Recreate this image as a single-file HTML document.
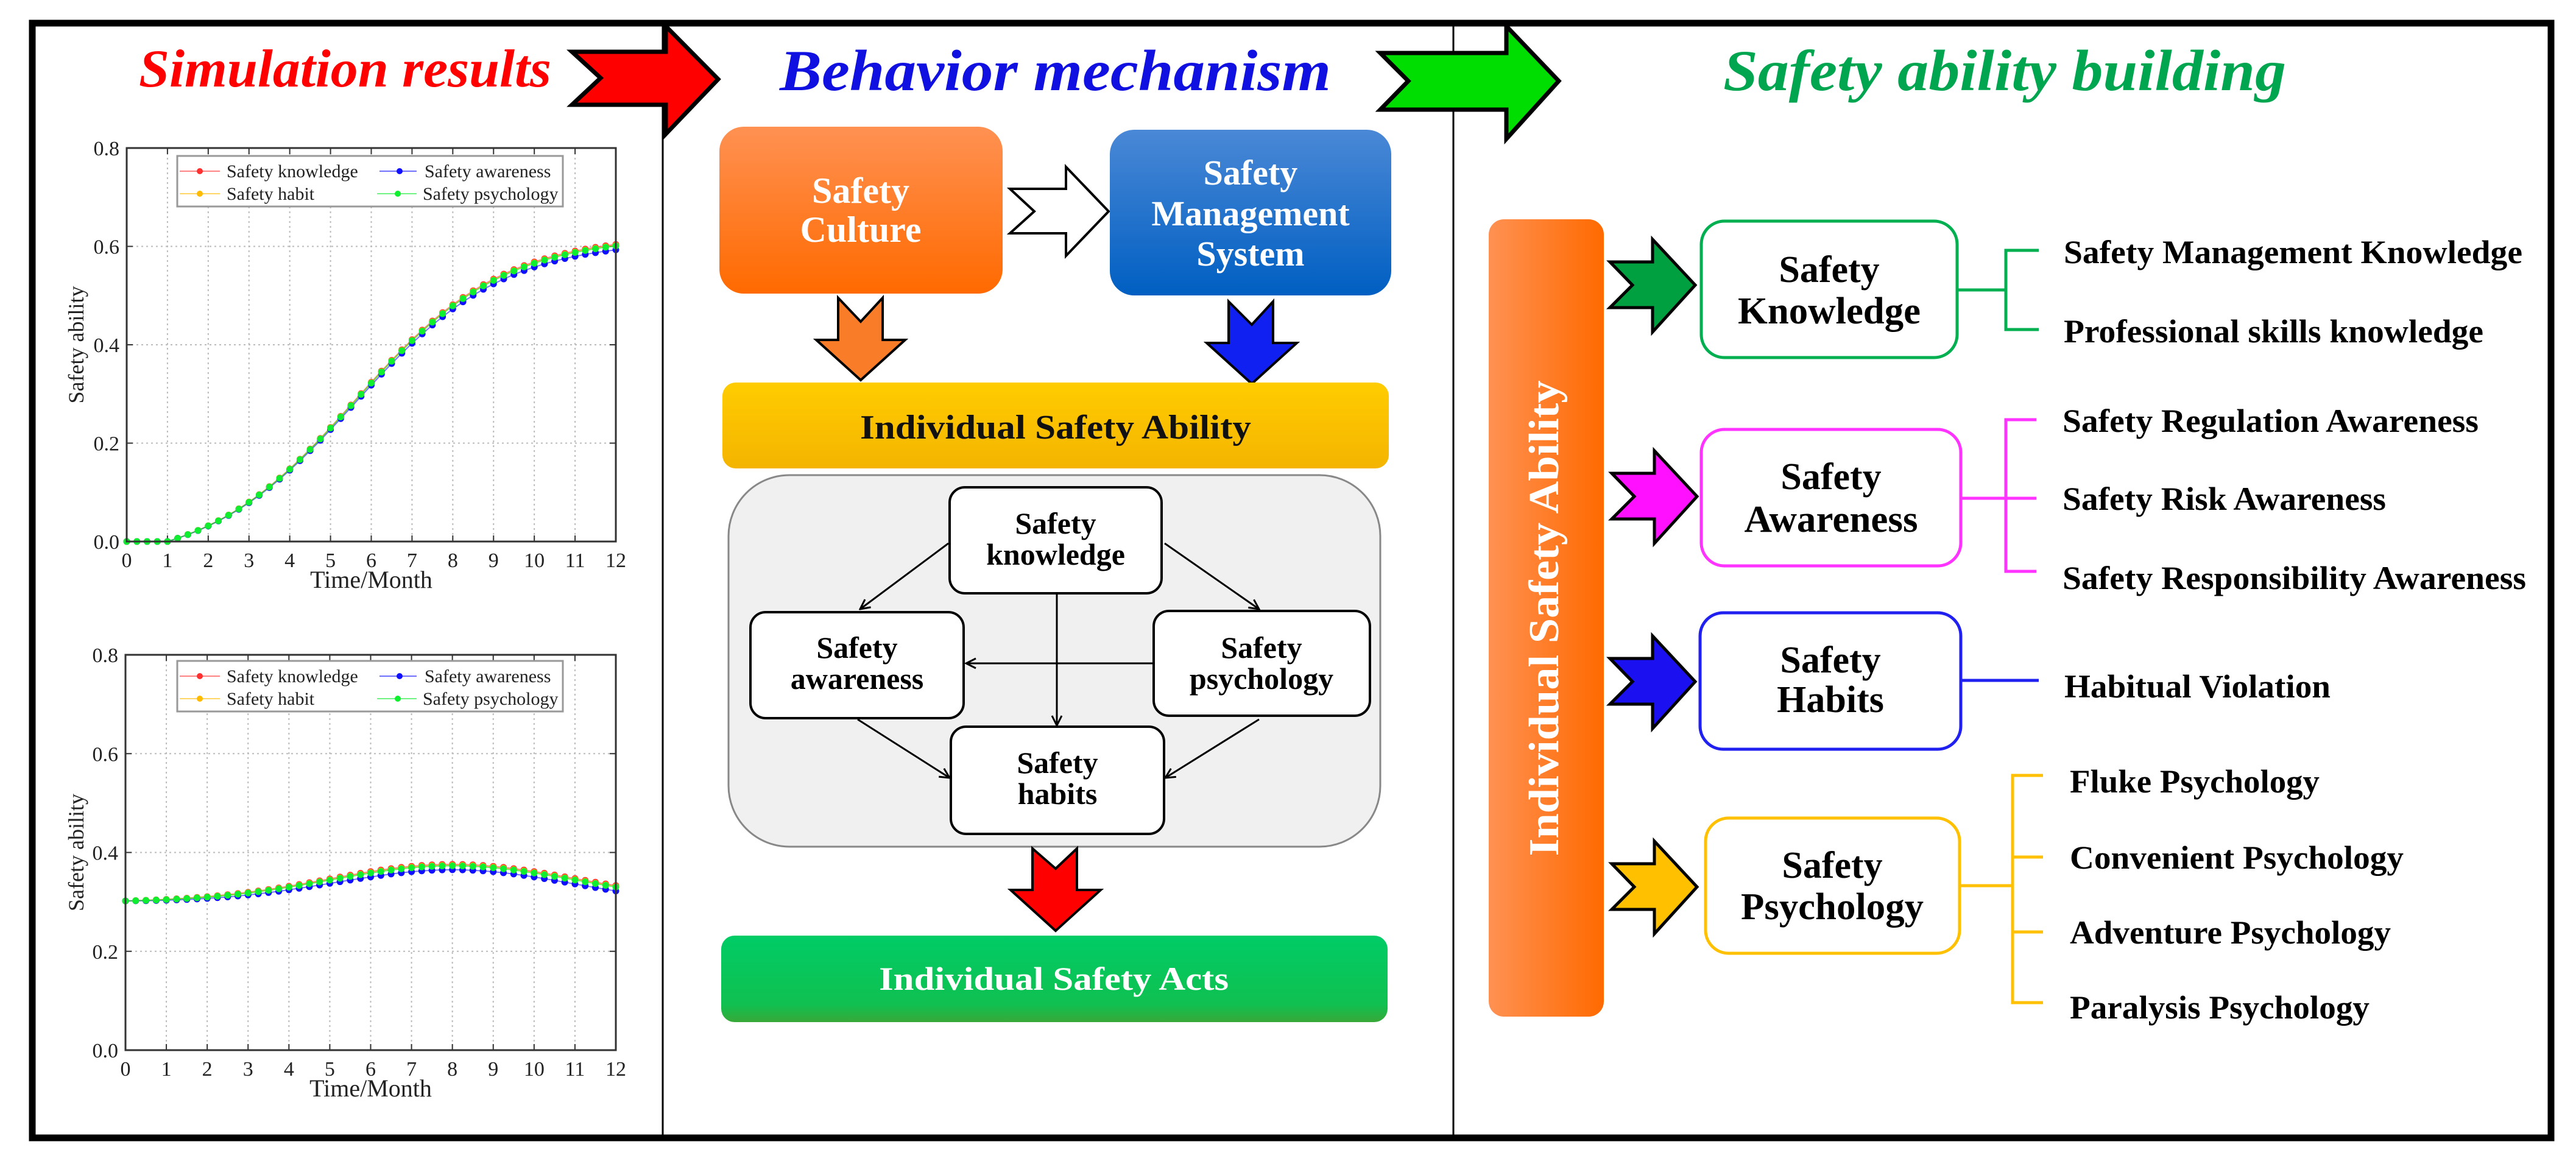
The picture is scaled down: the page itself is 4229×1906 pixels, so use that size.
<!DOCTYPE html>
<html><head><meta charset="utf-8"><style>
html,body{margin:0;padding:0;background:#fff;}
svg{display:block;}
</style></head><body>
<svg id="s" width="4229" height="1906" viewBox="0 0 4229 1906" xmlns="http://www.w3.org/2000/svg" font-family="Liberation Serif, serif">
<defs>
<linearGradient id="gOr" x1="0" y1="0" x2="0" y2="1"><stop offset="0" stop-color="#ff9152"/><stop offset="1" stop-color="#ff6a00"/></linearGradient>
<linearGradient id="gBl" x1="0" y1="0" x2="0" y2="1"><stop offset="0" stop-color="#4a88d6"/><stop offset="1" stop-color="#005fc2"/></linearGradient>
<linearGradient id="gGo" x1="0" y1="0" x2="0" y2="1"><stop offset="0" stop-color="#ffcc00"/><stop offset="1" stop-color="#f4b400"/></linearGradient>
<linearGradient id="gGr" x1="0" y1="0" x2="0" y2="1"><stop offset="0" stop-color="#00cc66"/><stop offset="0.8" stop-color="#10c050"/><stop offset="1" stop-color="#38a838"/></linearGradient>
<linearGradient id="gOrH" x1="0" y1="0" x2="1" y2="0"><stop offset="0" stop-color="#ff9152"/><stop offset="1" stop-color="#ff6a00"/></linearGradient>
<marker id="ah" viewBox="0 0 20 20" refX="18" refY="10" markerWidth="20" markerHeight="20" markerUnits="userSpaceOnUse" orient="auto"><path d="M2,2 L18,10 L2,18" fill="none" stroke="#000" stroke-width="3"/></marker>
</defs>
<rect x="53" y="38" width="4135" height="1830" fill="none" stroke="#000" stroke-width="11"/>
<line x1="1088" y1="43" x2="1088" y2="1863" stroke="#000" stroke-width="3"/>
<line x1="2386" y1="43" x2="2386" y2="1863" stroke="#000" stroke-width="3"/>

<text x="228" y="142" font-size="88" font-weight="bold" font-style="italic" fill="#ff0000" textLength="677" lengthAdjust="spacingAndGlyphs">Simulation results</text>
<text x="1280" y="148" font-size="95" font-weight="bold" font-style="italic" fill="#1010e0" textLength="905" lengthAdjust="spacingAndGlyphs">Behavior mechanism</text>
<text x="2829" y="148" font-size="95" font-weight="bold" font-style="italic" fill="#00a550" textLength="924" lengthAdjust="spacingAndGlyphs">Safety ability building</text>

<polygon points="939,85 1093,85 1093,43 1179,130 1093,220 1093,172 939,172 986,128" fill="#ff0000" stroke="#000" stroke-width="7"/>
<polygon points="2266,87 2473,87 2473,43 2559,133 2473,228 2473,180 2266,180 2312,133" fill="#00dd00" stroke="#000" stroke-width="7"/>

<g id="c1"></g><g id="c2"></g>

<rect x="1181" y="208" width="465" height="274" rx="40" fill="url(#gOr)"/>
<text x="1413" y="333" font-size="60" font-weight="bold" fill="#fff" text-anchor="middle">Safety</text>
<text x="1413" y="397" font-size="60" font-weight="bold" fill="#fff" text-anchor="middle">Culture</text>
<polygon points="1658,310 1750,310 1750,274 1820,347 1750,420 1750,383 1658,383 1698,347" fill="#fff" stroke="#000" stroke-width="4"/>
<rect x="1822" y="213" width="462" height="272" rx="40" fill="url(#gBl)"/>
<text x="2053" y="303" font-size="58" font-weight="bold" fill="#fff" text-anchor="middle">Safety</text>
<text x="2053" y="370" font-size="58" font-weight="bold" fill="#fff" text-anchor="middle">Management</text>
<text x="2053" y="436" font-size="58" font-weight="bold" fill="#fff" text-anchor="middle">System</text>
<polygon points="1376,489 1413,528 1449,489 1449,558 1486,558 1413,624 1340,558 1376,558" fill="#f97c28" stroke="#000" stroke-width="4"/>
<polygon points="2017,495 2055,533 2090,495 2090,563 2129,563 2055,630 1981,563 2017,563" fill="#1020f0" stroke="#000" stroke-width="4"/>
<rect x="1186" y="628" width="1094" height="141" rx="22" fill="url(#gGo)"/>
<text x="1733" y="720" font-size="56" font-weight="bold" fill="#111" text-anchor="middle" textLength="642" lengthAdjust="spacingAndGlyphs">Individual Safety Ability</text>
<rect x="1196" y="780" width="1070" height="610" rx="100" fill="#f0f0f0" stroke="#888" stroke-width="3"/>
<g stroke="#000" stroke-width="3" fill="none" marker-end="url(#ah)">
<line x1="1557" y1="892" x2="1412" y2="1000"/>
<line x1="1912" y1="892" x2="2067" y2="1000"/>
<line x1="1735" y1="976" x2="1735" y2="1191"/>
<line x1="1893" y1="1089" x2="1586" y2="1089"/>
<line x1="1408" y1="1181" x2="1559" y2="1277"/>
<line x1="2067" y1="1181" x2="1913" y2="1277"/>
</g>
<g fill="#fff" stroke="#000" stroke-width="4">
<rect x="1559" y="800" width="348" height="174" rx="25"/>
<rect x="1232" y="1005" width="350" height="174" rx="25"/>
<rect x="1894" y="1003" width="355" height="172" rx="25"/>
<rect x="1561" y="1193" width="350" height="176" rx="25"/>
</g>
<g font-size="50" font-weight="bold" fill="#000" text-anchor="middle">
<text x="1733" y="876">Safety</text><text x="1733" y="927">knowledge</text>
<text x="1407" y="1080">Safety</text><text x="1407" y="1131">awareness</text>
<text x="2071" y="1080">Safety</text><text x="2071" y="1131">psychology</text>
<text x="1736" y="1269">Safety</text><text x="1736" y="1320">habits</text>
</g>
<polygon points="1695,1393 1733,1426 1768,1393 1768,1461 1807,1461 1733,1528 1659,1461 1695,1461" fill="#ff0000" stroke="#000" stroke-width="4"/>
<rect x="1184" y="1536" width="1094" height="142" rx="22" fill="url(#gGr)"/>
<text x="1730" y="1625" font-size="54" font-weight="bold" fill="#fff" text-anchor="middle" textLength="574" lengthAdjust="spacingAndGlyphs">Individual Safety Acts</text>

<rect x="2444" y="360" width="189" height="1309" rx="25" fill="url(#gOrH)"/>
<text transform="translate(2558,1015) rotate(-90)" font-size="70" font-weight="bold" fill="#fff" text-anchor="middle" textLength="781" lengthAdjust="spacingAndGlyphs">Individual Safety Ability</text>
<g stroke="#000" stroke-width="5">
<polygon points="2643,430 2713,430 2713,393 2783,468 2713,545 2713,505 2643,505 2680,468" fill="#00a040"/>
<polygon transform="translate(3,347)" points="2643,430 2713,430 2713,393 2783,468 2713,545 2713,505 2643,505 2680,468" fill="#ff10ff"/>
<polygon transform="translate(0,651)" points="2643,430 2713,430 2713,393 2783,468 2713,545 2713,505 2643,505 2680,468" fill="#1a10f0"/>
<polygon transform="translate(3,988)" points="2643,430 2713,430 2713,393 2783,468 2713,545 2713,505 2643,505 2680,468" fill="#ffc000"/>
</g>
<g fill="#fff" stroke-width="5">
<rect x="2793" y="363" width="420" height="224" rx="38" stroke="#00b050"/>
<rect x="2793" y="705" width="426" height="224" rx="38" stroke="#ff33ff"/>
<rect x="2791" y="1006" width="428" height="224" rx="38" stroke="#2020f0"/>
<rect x="2800" y="1343" width="417" height="222" rx="38" stroke="#ffc000"/>
</g>
<g font-size="62" font-weight="bold" fill="#000" text-anchor="middle">
<text x="3003" y="463">Safety</text><text x="3003" y="531" textLength="300" lengthAdjust="spacingAndGlyphs">Knowledge</text>
<text x="3006" y="803">Safety</text><text x="3006" y="873" textLength="285" lengthAdjust="spacingAndGlyphs">Awareness</text>
<text x="3005" y="1104">Safety</text><text x="3005" y="1169">Habits</text>
<text x="3008" y="1441">Safety</text><text x="3008" y="1509" textLength="300" lengthAdjust="spacingAndGlyphs">Psychology</text>
</g>
<g fill="none" stroke-width="5">
<path d="M3213,476 H3293 M3347,411 H3293 V541 H3347" stroke="#00b050"/>
<path d="M3219,818 H3343 M3343,689 H3293 V938 H3343" stroke="#ff33ff"/>
<path d="M3219,1117 H3347" stroke="#2020f0"/>
<path d="M3217,1454 H3304 M3354,1273 H3304 V1646 H3354 M3304,1407 H3354 M3304,1530 H3354" stroke="#ffc000"/>
</g>
<g font-size="54" font-weight="bold" fill="#000">
<text x="3388" y="432" textLength="753" lengthAdjust="spacingAndGlyphs">Safety Management Knowledge</text>
<text x="3388" y="562" textLength="689" lengthAdjust="spacingAndGlyphs">Professional skills knowledge</text>
<text x="3386" y="709" textLength="683" lengthAdjust="spacingAndGlyphs">Safety Regulation Awareness</text>
<text x="3386" y="837" textLength="531" lengthAdjust="spacingAndGlyphs">Safety Risk Awareness</text>
<text x="3386" y="967" textLength="761" lengthAdjust="spacingAndGlyphs">Safety Responsibility Awareness</text>
<text x="3389" y="1145" textLength="437" lengthAdjust="spacingAndGlyphs">Habitual Violation</text>
<text x="3398" y="1301" textLength="410" lengthAdjust="spacingAndGlyphs">Fluke Psychology</text>
<text x="3398" y="1426" textLength="548" lengthAdjust="spacingAndGlyphs">Convenient Psychology</text>
<text x="3398" y="1549" textLength="527" lengthAdjust="spacingAndGlyphs">Adventure Psychology</text>
<text x="3398" y="1672" textLength="492" lengthAdjust="spacingAndGlyphs">Paralysis Psychology</text>
</g>
</svg>
<script>
(function(){
var NS="http://www.w3.org/2000/svg";
function el(p,n,a,t){var e=document.createElementNS(NS,n);for(var k in a)e.setAttribute(k,a[k]);if(t!=null)e.textContent=t;p.appendChild(e);return e;}
function L(t){return 0.62/(1+Math.exp(-0.55*(t-5.6)));}
function f1(t){if(t<=1)return 0;return (L(t)-L(1))/(L(12)-L(1))*0.6;}
function f2(t){return 0.3+0.072*Math.exp(-Math.pow((t-8)/4.2,2));}
function chart(g,x0,x1,yTop,yBot,fn,prog,legY){
 var sx=(x1-x0)/12, sy=(yBot-yTop)/0.8;
 function X(t){return x0+t*sx;} function Y(v){return yBot-v*sy;}
 for(var i=1;i<12;i++)el(g,"line",{x1:X(i),y1:yTop,x2:X(i),y2:yBot,stroke:"#bbb","stroke-width":2,"stroke-dasharray":"3,5"});
 for(var j=1;j<4;j++)el(g,"line",{x1:x0,y1:Y(j*0.2),x2:x1,y2:Y(j*0.2),stroke:"#bbb","stroke-width":2,"stroke-dasharray":"3,5"});
 for(var i=0;i<=12;i++){el(g,"line",{x1:X(i),y1:yTop,x2:X(i),y2:yTop+10,stroke:"#333","stroke-width":2});el(g,"line",{x1:X(i),y1:yBot,x2:X(i),y2:yBot-10,stroke:"#333","stroke-width":2});
  el(g,"text",{x:X(i),y:yBot+42,"font-size":34,"text-anchor":"middle",fill:"#222"},String(i));}
 for(var j=0;j<=4;j++){el(g,"line",{x1:x0,y1:Y(j*0.2),x2:x0+10,y2:Y(j*0.2),stroke:"#333","stroke-width":2});el(g,"line",{x1:x1,y1:Y(j*0.2),x2:x1-10,y2:Y(j*0.2),stroke:"#333","stroke-width":2});
  el(g,"text",{x:x0-12,y:Y(j*0.2)+12,"font-size":34,"text-anchor":"end",fill:"#222"},(j*0.2).toFixed(1));}
 var ser=[["#ff3030",0.004],["#ffbb00",0.002],["#1010ff",-0.007],["#10ee30",0.001]];
 ser.forEach(function(s){var d="",pts=[];for(var k=0;k<=48;k++){var t=k/4;var v=fn(t)+s[1]*prog(t);pts.push([X(t),Y(v)]);d+=(k?"L":"M")+X(t).toFixed(1)+","+Y(v).toFixed(1);}
  el(g,"path",{d:d,fill:"none",stroke:s[0],"stroke-width":2,opacity:0.6});
  pts.forEach(function(p){el(g,"circle",{cx:p[0],cy:p[1],r:5.5,fill:s[0]});});});
 el(g,"rect",{x:x0,y:yTop,width:x1-x0,height:yBot-yTop,fill:"none",stroke:"#333","stroke-width":3});
 el(g,"rect",{x:291,y:legY,width:633,height:83,fill:"#fff",stroke:"#999","stroke-width":3});
 var r1=legY+25,r2=legY+62;
 [[295,361,328,372,r1,"#ff3030","Safety knowledge"],[623,684,656,697,r1,"#1010ff","Safety awareness"],[295,361,328,372,r2,"#ffbb00","Safety habit"],[619,684,653,694,r2,"#10ee30","Safety psychology"]].forEach(function(l){
  el(g,"line",{x1:l[0],y1:l[4],x2:l[1],y2:l[4],stroke:l[5],"stroke-width":2,opacity:0.6});
  el(g,"circle",{cx:l[2],cy:l[4],r:5,fill:l[5]});
  el(g,"text",{x:l[3],y:l[4]+10,"font-size":30,fill:"#222"},l[6]);});
 el(g,"text",{x:(x0+x1)/2,y:yBot+76,"font-size":40,"text-anchor":"middle",fill:"#222"},"Time/Month");
 var cy=(yTop+yBot)/2;
 el(g,"text",{transform:"translate(137,"+cy+") rotate(-90)","font-size":36,"text-anchor":"middle",fill:"#222"},"Safety ability");
}
chart(document.getElementById("c1"),208,1011,243,889,f1,function(t){return f1(t)/0.6;},256);
chart(document.getElementById("c2"),206,1011,1075,1724,f2,function(t){return Math.min(1,t/6);},1085);
})();
</script>
</body></html>
